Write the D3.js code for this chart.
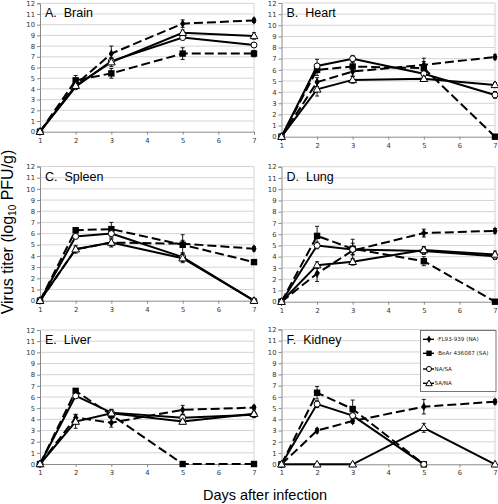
<!DOCTYPE html>
<html><head><meta charset="utf-8">
<script src="https://cdn.jsdelivr.net/npm/d3@7"></script>
<style>body{margin:0;background:#fff}svg{display:block}</style>
</head><body><svg id="c" width="498" height="504"></svg>
<script>
const days = [1, 2, 3, 5, 7];
const xTicks = [1, 2, 3, 4, 5, 6, 7];
const yTicks = d3.range(0, 13);
const seriesNames = ["FL93-939 (NA)", "BeAr 436087 (SA)", "NA/SA", "SA/NA"];
const panelTitles = ["A.  Brain", "B.  Heart", "C.  Spleen", "D.  Lung", "E.  Liver", "F.  Kidney"];

// values: [FL93-939, BeAr 436087, NA/SA, SA/NA]
const brain = [[0,4.4,7.3,10.1,10.4],[0,4.8,5.45,7.3,7.3],[0,4.2,6.6,8.8,8.1],[0,4.3,6.5,9.25,8.95]];
const heart = [[0,4.9,5.85,6.45,7.15],[0,6.0,6.3,6.15,0],[0,6.35,7.0,5.65,3.75],[0,4.25,5.1,5.2,4.65]];
const spleen = [[0,4.6,5.2,5.1,4.65],[0,6.3,6.4,5.0,3.45],[0,5.75,6.0,3.9,0],[0,4.6,5.2,3.8,0]];
const lung = [[0,2.5,4.55,6.1,6.3],[0,5.85,4.7,3.6,0],[0,5.0,4.65,4.5,4.05],[0,3.25,3.55,4.6,4.2]];
const liver = [[0,4.15,3.7,4.85,5.05],[0,6.55,4.4,0,0],[0,6.1,4.6,4.15,4.4],[0,3.8,4.55,3.8,4.5]];
const kidney = [[0,3.0,3.85,5.13,5.57],[0,6.37,4.92,0,null],[0,5.36,4.33,0,null],[0,0,0,3.25,0]];

const brainErr = [[0,0.3,0.7,0.35,0.2],[0,0.45,0.45,0.55,0.3],[0,0.2,0.3,0.2,0.2],[0,0.2,0.4,0.25,0.3]];
const heartErr = [[0,0.4,0.4,0.3,0.2],[0,0.5,0.4,0.9,0],[0,0.6,0.3,0.3,0.3],[0,0.6,0.3,0.2,0.2]];
const spleenErr = [[0,0.2,0.3,0.3,0.2],[0,0.2,0.6,0.9,0.2],[0,0.2,0.3,0.4,0],[0,0.35,0.4,0.4,0]];
const lungErr = [[0,0.7,0.4,0.35,0.2],[0,0.85,0.5,0.4,0],[0,0.3,0.9,0.3,0.3],[0,0.3,0.3,0.3,0.3]];
const liverErr = [[0,0.3,0.4,0.4,0.2],[0,0.2,0.3,0,0],[0,0.2,0.3,0.3,0.2],[0,0.6,0.3,0.2,0.2]];
const kidneyErr = [[0,0.2,0.2,0.65,0.2],[0,0.55,0.8,0,null],[0,0.3,0.3,0,null],[0,0,0,0.4,0]];

const panelData = [brain, heart, spleen, lung, liver, kidney];
const panelErr = [brainErr, heartErr, spleenErr, lungErr, liverErr, kidneyErr];

// layout (pixels)
const boxes = [
  {l:40, r:254, t:3.3, b:131.7},
  {l:281.5, r:495, t:3, b:136.7},
  {l:40, r:254, t:166.5, b:300.7},
  {l:281.5, r:495, t:166.7, b:301.7},
  {l:40, r:254, t:330, b:464},
  {l:281.5, r:495, t:329.5, b:464.3}
];

const svg = d3.select("#c");
const dashed = [true, true, false, false];
const markerType = ["diamond", "square", "circle", "triangle"];

function drawMarker(g, type, x, y, s) {
  s = s || 1;
  if (type === "diamond") {
    g.append("path").attr("d", d3.symbol(d3.symbolDiamond, 22*s*s)())
      .attr("transform", `translate(${x},${y})`).attr("fill", "#000");
  } else if (type === "square") {
    g.append("rect").attr("x", x-3.2*s).attr("y", y-3.2*s).attr("width", 6.4*s).attr("height", 6.4*s).attr("fill", "#000");
  } else if (type === "circle") {
    g.append("circle").attr("cx", x).attr("cy", y).attr("r", 3*s).attr("fill", "#fff").attr("stroke", "#000").attr("stroke-width", 1);
  } else {
    g.append("path").attr("d", d3.symbol(d3.symbolTriangle, 26*s*s)())
      .attr("transform", `translate(${x},${y+0.5})`).attr("fill", "#fff").attr("stroke", "#000").attr("stroke-width", 1);
  }
}

boxes.forEach((bx, pi) => {
  const x = d3.scaleLinear().domain([1, 7]).range([bx.l, bx.r]);
  const y = d3.scaleLinear().domain([0, 12]).range([bx.b, bx.t]);
  const g = svg.append("g");

  // gridlines
  g.append("g").selectAll("line").data(yTicks.filter(d => d > 0)).join("line")
    .attr("x1", bx.l).attr("x2", bx.r).attr("y1", d => y(d)).attr("y2", d => y(d))
    .attr("stroke", "#d4d4d4").attr("stroke-width", 1);
  g.append("line").attr("x1", bx.r).attr("x2", bx.r).attr("y1", bx.t).attr("y2", bx.b)
    .attr("stroke", "#d4d4d4");

  // axes
  const ya = d3.axisLeft(y).tickValues(yTicks).tickSize(3).tickPadding(2);
  const yg = g.append("g").attr("transform", `translate(${bx.l},0)`).call(ya);
  const xa = d3.axisBottom(x).tickValues(xTicks).tickSize(3).tickPadding(3).tickFormat(d3.format("d"));
  const xg = g.append("g").attr("transform", `translate(0,${bx.b})`).call(xa);
  [yg, xg].forEach(a => {
    a.select(".domain").attr("stroke", "#8a8a8a");
    a.selectAll(".tick line").attr("stroke", "#8a8a8a");
    a.selectAll("text").attr("font-family", "DejaVu Sans, Verdana, sans-serif")
      .attr("font-size", "6.8px").attr("fill", "#333");
  });

  // title
  g.append("text").attr("x", bx.l + 5).attr("y", bx.t + 14)
    .attr("font-family", "Liberation Sans, Arial, sans-serif").attr("font-size", "12.5px")
    .attr("fill", "#000").style("white-space", "pre").text(panelTitles[pi]);

  const data = panelData[pi], err = panelErr[pi];
  // lines
  data.forEach((vals, si) => {
    const pts = days.map((d, i) => [d, vals[i]]).filter(p => p[1] !== null);
    g.append("path").datum(pts)
      .attr("d", d3.line().x(p => x(p[0])).y(p => y(p[1])))
      .attr("fill", "none").attr("stroke", "#000").attr("stroke-width", 2)
      .attr("stroke-dasharray", dashed[si] ? "9,4" : null);
  });
  // error bars
  data.forEach((vals, si) => {
    days.forEach((d, i) => {
      const v = vals[i], e = err[si][i];
      if (v === null || !e || e < 0.1) return;
      const cx = x(d);
      g.append("line").attr("x1", cx).attr("x2", cx).attr("y1", y(v - e)).attr("y2", y(v + e))
        .attr("stroke", "#000").attr("stroke-width", 0.9);
      [v - e, v + e].forEach(w => g.append("line").attr("x1", cx - 2).attr("x2", cx + 2)
        .attr("y1", y(w)).attr("y2", y(w)).attr("stroke", "#000").attr("stroke-width", 0.9));
    });
  });
  // markers (open markers drawn on top)
  [0, 1, 2, 3].forEach(si => {
    days.forEach((d, i) => {
      const v = data[si][i];
      if (v === null) return;
      drawMarker(g, markerType[si], x(d), y(v));
    });
  });
});

// legend in panel F
const lg = svg.append("g");
lg.append("rect").attr("x", 420.5).attr("y", 330.5).attr("width", 75.5).attr("height", 61)
  .attr("fill", "#fff").attr("stroke", "#555").attr("stroke-width", 0.8);
const legY = [339.3, 353.3, 369, 383.3];
seriesNames.forEach((name, si) => {
  const yy = legY[si];
  lg.append("line").attr("x1", 423).attr("x2", 434).attr("y1", yy).attr("y2", yy)
    .attr("stroke", "#000").attr("stroke-width", 1.4);
  drawMarker(lg, markerType[si], 429, yy, 0.85);
  const prefix = si < 2 ? "\u00b7" : "";
  lg.append("text").attr("x", si < 2 ? 436.5 : 434.5).attr("y", yy + 2)
    .attr("font-family", "DejaVu Sans, Verdana, sans-serif").attr("font-size", "5.6px")
    .attr("fill", "#222").text(prefix + name);
});

// axis titles
const yl = svg.append("text").attr("transform", "translate(13,232) rotate(-90)")
  .attr("text-anchor", "middle").attr("font-family", "Liberation Sans, Arial, sans-serif")
  .attr("font-size", "16px").attr("fill", "#000");
yl.append("tspan").text("Virus titer (log");
yl.append("tspan").attr("font-size", "10px").attr("dy", 3).text("10");
yl.append("tspan").attr("dy", -3).text(" PFU/g)");

svg.append("text").attr("x", 265).attr("y", 500).attr("text-anchor", "middle")
  .attr("font-family", "Liberation Sans, Arial, sans-serif").attr("font-size", "14.5px")
  .attr("fill", "#000").text("Days after infection");
</script></body></html>
